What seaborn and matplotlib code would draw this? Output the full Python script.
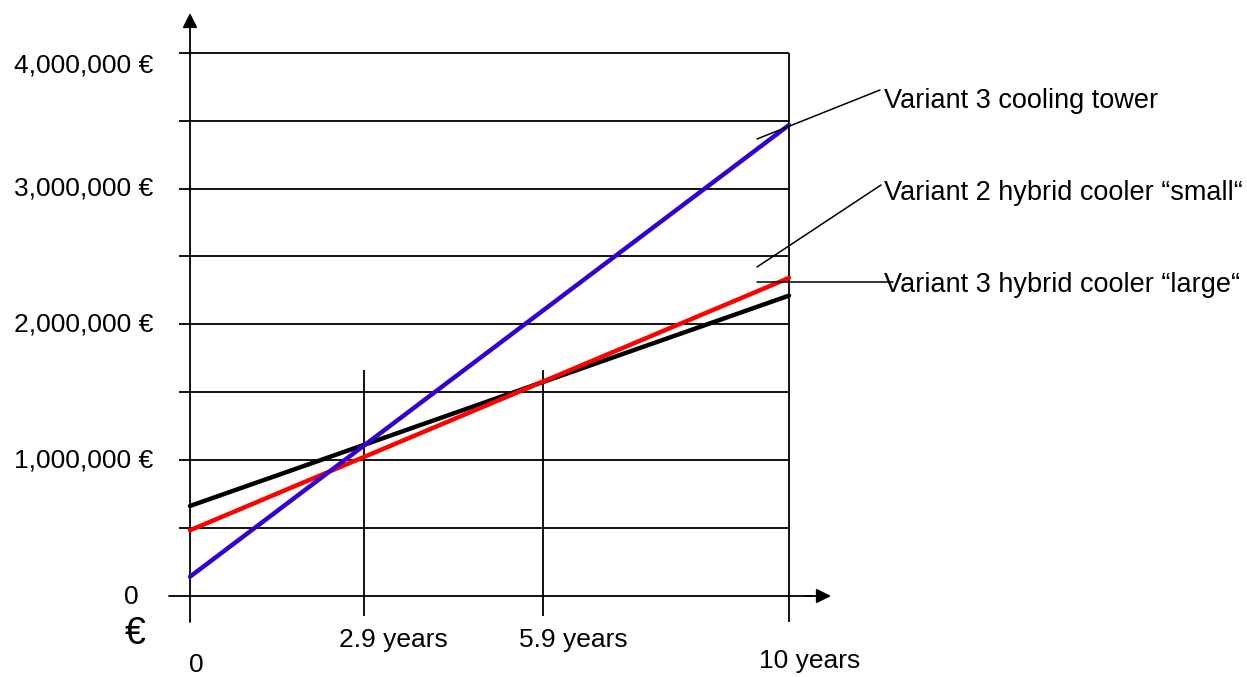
import numpy as np
import pandas as pd
import matplotlib
matplotlib.use("Agg")
import matplotlib.pyplot as plt
import seaborn as sns

# ---- data ----
years = [0, 10]
variants = ["Variant 3 hybrid cooler \u201clarge\u201c",
            "Variant 2 hybrid cooler \u201csmall\u201c",
            "Variant 3 cooling tower"]
cost_large = [663000, 2212000]
cost_small = [484000, 2342000]
cost_tower = [142000, 3468000]
line_colors = ["#000000", "#FF0000", "#3300CC"]
y_ticks = [0, 1000000, 2000000, 3000000, 4000000]
y_tick_labels = ["0", "1,000,000 \u20ac", "2,000,000 \u20ac", "3,000,000 \u20ac", "4,000,000 \u20ac"]
y_grid = [500000, 1000000, 1500000, 2000000, 2500000, 3000000, 3500000, 4000000]
x_marks = [2.9, 5.9, 10]
x_mark_labels = ["2.9 years", "5.9 years", "10 years"]

sns.set_theme(style="white")
plt.rcParams["font.family"] = ["Liberation Sans", "DejaVu Sans"]
plt.rcParams["text.color"] = "black"

W, H = 1247, 677
fig = plt.figure(figsize=(W / 100, H / 100), dpi=100)
ax = fig.add_axes([0, 0, 1, 1])

# pixel <-> data mapping
X0, SX = 190.0, 59.9          # px at year 0, px per year
Y0, SY = 596.0, 135.8e-6      # px at 0 €, px per €
ax.set_xlim(-X0 / SX, (W - X0) / SX)
ax.set_ylim(-(H - Y0) / SY, Y0 / SY)
ax.axis("off")

def px(x, y):
    return ((x - X0) / SX, (Y0 - y) / SY)

df = pd.DataFrame({
    "year": years * 3,
    "cost": cost_large + cost_small + cost_tower,
    "variant": [variants[0]] * 2 + [variants[1]] * 2 + [variants[2]] * 2,
})

# grid lines
gl = dict(color="black", lw=1.3, zorder=1)
ax.hlines(y_grid, px(179, 0)[0], 10, **gl)
ax.vlines(x_marks[:2], px(0, 616)[1], px(0, 370)[1], **gl)
ax.vlines(10, px(0, 622)[1], 4000000, **gl)

# axes with arrows
ax.plot([0, 0], [px(0, 622)[1], px(0, 40)[1]], color="black", lw=1.3, zorder=1)
ax.annotate("", xy=px(190, 13), xytext=px(190, 40),
            arrowprops=dict(arrowstyle="-|>", mutation_scale=22, lw=1.3, color="black",
                            shrinkA=0, shrinkB=0))
ax.plot([px(169, 0)[0], px(812, 0)[0]], [0, 0], color="black", lw=1.3, zorder=1)
ax.annotate("", xy=px(831, 596), xytext=px(805, 596),
            arrowprops=dict(arrowstyle="-|>", mutation_scale=22, lw=1.3, color="black",
                            shrinkA=0, shrinkB=0))

# data lines
sns.lineplot(data=df, x="year", y="cost", hue="variant", palette=line_colors,
             linewidth=3.2, legend=False, ax=ax, zorder=3)

fs = 19
# y labels
for v, lab in zip(y_ticks, y_tick_labels):
    if v == 0:
        ax.text(*px(131, 597), lab, ha="center", va="center", fontsize=fs)
    elif v == 4000000:
        ax.text(*px(153, 66), lab, ha="right", va="center", fontsize=fs)
    else:
        ax.text(px(153, 0)[0], v, lab, ha="right", va="center", fontsize=fs)
ax.text(*px(135, 634), "\u20ac", ha="center", va="center", fontsize=27)
ax.text(*px(196, 665), "0", ha="center", va="center", fontsize=fs)

# x labels
for xm, lab in zip(x_marks, x_mark_labels):
    yy = 661 if xm == 10 else 640
    xx = xm + (0.35 if xm == 10 else 0.5)
    ax.text(xx, px(0, yy)[1], lab, ha="center", va="center", fontsize=fs)

# annotations with leader lines
ann = [
    (variants[2], (757, 139), (880, 90), (884, 101)),
    (variants[1], (757, 267), (881, 185), (884, 193)),
    (variants[0], (757, 282), (893, 282), (884, 285)),
]
for lab, p1, p2, pt in ann:
    a, b = px(*p1), px(*p2)
    ax.plot([a[0], b[0]], [a[1], b[1]], color="black", lw=1.1, zorder=4)
    ax.text(*px(*pt), lab, ha="left", va="center", fontsize=19.5, zorder=2)

fig.savefig("out.png", dpi=100, facecolor="white")
